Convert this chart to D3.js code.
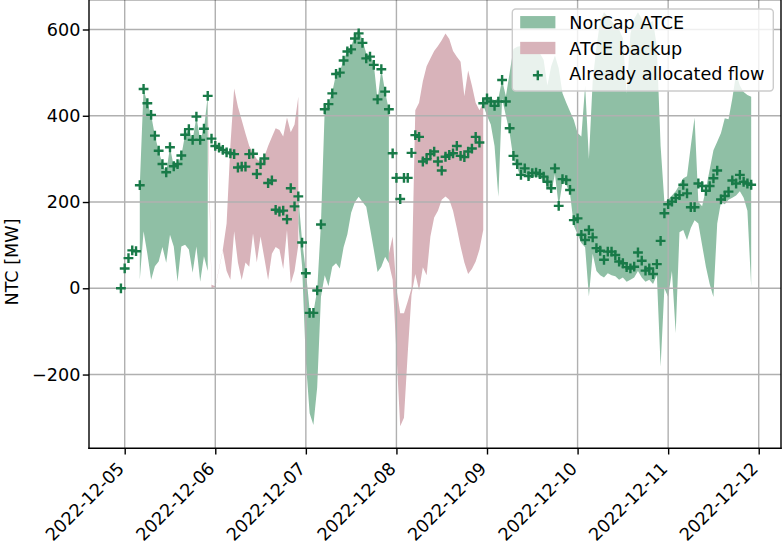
<!DOCTYPE html>
<html>
<head>
<meta charset="utf-8">
<script src="https://cdn.jsdelivr.net/npm/d3@7"></script>
<style>
  html, body { margin: 0; padding: 0; background: #ffffff; }
  svg { display: block; font-family: "DejaVu Sans", sans-serif; }
</style>
</head>
<body>
<svg id="chart" width="783" height="545"></svg>
<script>
// Hourly series, first hour 2022-12-04 23:00 UTC, 168 hours.
const firstHour = "2022-12-04T23:00:00Z";

const allocatedFlow = [
  0,
  46, 70, 88, 86, 239, 462, 429, 402, 354, 319,
  288, 269, 327, 283, 288, 308, 356, 369, 344, 398,
  344, 370, 446, 347, 330, 326, 321, 315, 313, 311,
  280, 282, 282, 311, 312, 265, 288, 301, 244, 250,
  182, 178, 180, 160, 232, 190, 213, 106, 35, -57,
  -57, -5, 148, 415, 427, 452, 497, 500, 528, 549,
  554, 579, 591, 569, 533, 537, 518, 438, 508, 456,
  415, 313, 256, 207, 256, 256, 314, 355, 351, 294,
  299, 311, 317, 294, 273, 305, 309, 313, 330, 307,
  304, 317, 324, 351, 338, 429, 440, 433, 423, 433,
  483, 433, 371, 307, 288, 263, 278, 260, 267, 268,
  265, 259, 247, 232, 278, 191, 253, 251, 228, 158,
  162, 124, 112, 135, 118, 93, 87, 66, 85, 85,
  77, 62, 58, 49, 46, 50, 83, 64, 41, 46,
  33, 56, 110, 174, 195, 201, 209, 216, 240, 220,
  188, 188, 243, 237, 226, 237, 255, 273, 206, 214,
  224, 250, 243, 263, 247, 243, 240
];

// NorCap ATCE range (null where the backup applies or no range exists)
const norcapHigh = [
  null, null, null, null, null,
  239, 462, 429, 402, 354, 319, 288, 269, 327, 283, 288, 308, 356, 369, 344, 398, 344, 370, 446,
  null, null, null, null, null, null, null, null, null, null, null, null,
  null, null, null, null, null, null, null, null, null, null, null,
  213, 110, 40, -50, -55, -5, 150, 415, 430, 455, 497, 502, 530, 550, 560, 587, 600, 575, 545,
  540, 520, 436, 508, 456, 413,
  null, null, null, null, null, null, null, null, null, null, null, null,
  null, null, null, null, null, null, null, null, null, null, null, null,
  440, 445, 440, 436, 440, 483, 445, 500, 555, 560,
  562, 558, 562, 555, 550, 545, 530, 470, 515, 540,
  510, 452, 430, 410, 390, 360, 352, 470, 300, 480,
  560, 620, 640, 630, 620, 610, 600, 580, 452, 590,
  625, 640, 625, 610, 615, 620, 560, 330, 200, 205,
  215, 225, 240, 255, 260, 330, 396, 200, 190, 230,
  275, 320, 340, 360, 394, 392, 440, 498, 470, 455,
  448, 444
];
const norcapLow = [
  null, null, null, null, null,
  20, 132, 80, 20, 51, 62, 96, 59, 124, 97, 15, 97, 101, 90, 36, 97, 15, 74, 40,
  null, null, null, null, null, null, null, null, null, null, null, null,
  null, null, null, null, null, null, null, null, null, null, null,
  150, 51, -170, -290, -317, -230, -20, 30, 5, 50, 58, 46, 95, 125, 175, 200, 212, 200, 189,
  140, 90, 38, 50, 73, 58,
  null, null, null, null, null, null, null, null, null, null, null, null,
  null, null, null, null, null, null, null, null, null, null, null, null,
  425, 400, 380, 330, 212, 440, 400, 360, 300, 280,
  255, 270, 250, 258, 260, 256, 250, 238, 222, 265,
  190, 245, 240, 220, 145, 125, 105, 95, -19, 80,
  40, 30, 25, 35, 30, 28, 20, 25, 15, 20,
  25, 40, 25, 15, 20, 10, 30, -182, 0, -20,
  40, -104, 130, 135, 112, 140, 158, 150, 100, 50,
  10, -20, 150, 200, 195, 205, 210, 215, 225, 210,
  180, 4
];

// ATCE backup range (null where NorCap applies)
const backupHigh = [
  null, null, null, null, null, null, null, null, null, null, null, null,
  null, null, null, null, null, null, null, null, null, null, null,
  437, 8, 5, 46, 90, 150, 330, 463, 421, 390, 359, 330, 313,
  300, 292, 305, 330, 351, 371, 367, 352, 396, 362, 380, 444,
  null, null, null, null, null, null, null, null, null, null, null, null,
  null, null, null, null, null, null, null, null, null, null, null,
  80, 120, 0, -58, -58, -30, 0, 413, 430, 480, 515, 533, 550,
  562, 575, 591, 578, 550, 537, 525, 445, 505, 470, 430, 413, 430,
  null, null, null, null, null, null, null, null, null, null,
  null, null, null, null, null, null, null, null, null, null,
  null, null, null, null, null, null, null, null, null, null,
  null, null, null, null, null, null, null, null, null, null,
  null, null, null, null, null, null, null, null, null, null,
  null, null, null, null, null, null, null, null, null, null,
  null, null, null, null, null, null, null, null, null, null,
  null
];
const backupLow = [
  null, null, null, null, null, null, null, null, null, null, null, null,
  null, null, null, null, null, null, null, null, null, null, null,
  380, 0, 3, 44, 88, 40, 20, 132, 60, 19, 60, 50, 127,
  60, 120, 70, 19, 80, 96, 90, 45, 135, 11, 40, 100,
  null, null, null, null, null, null, null, null, null, null, null, null,
  null, null, null, null, null, null, null, null, null, null, null,
  58, 20, -150, -320, -300, -150, -15, 33, -5, 49, 30, 120, 164,
  180, 205, 213, 205, 180, 140, 97, 60, 33, 45, 62, 90, 135,
  null, null, null, null, null, null, null, null, null, null,
  null, null, null, null, null, null, null, null, null, null,
  null, null, null, null, null, null, null, null, null, null,
  null, null, null, null, null, null, null, null, null, null,
  null, null, null, null, null, null, null, null, null, null,
  null, null, null, null, null, null, null, null, null, null,
  null, null, null, null, null, null, null, null, null, null,
  null
];

const dayTicks = ["2022-12-05", "2022-12-06", "2022-12-07", "2022-12-08",
                  "2022-12-09", "2022-12-10", "2022-12-11", "2022-12-12"];
const valueTicks = [-200, 0, 200, 400, 600];
const seriesLabels = ["NorCap ATCE", "ATCE backup", "Already allocated flow"];
const axisTitle = "NTC [MW]";

// ---- styling ----
const COL = {
  norcap: "#8fbfa5",
  backup: "#d8b3ba",
  flow: "#187a48",
  grid: "#b0b0b0",
  axis: "#000000"
};
const FS = 17.6;          // font size (px)
const LW = 1.4;           // spine / grid / tick line width
const TICK = 6.2;         // tick length
const XPAD = 6.2;         // x tick label pad
const YPAD = 2.4;         // y tick label pad

const plot = { left: 89, right: 781, top: 0, bottom: 448.3 };

const t0 = Date.parse(firstHour);
const rows = allocatedFlow.map((v, i) => ({
  time: new Date(t0 + i * 3600e3),
  flow: v,
  nLow: norcapLow[i], nHigh: norcapHigh[i],
  bLow: backupLow[i], bHigh: backupHigh[i]
}));

const dayStart = Date.UTC(2022, 11, 5);
const x = d3.scaleUtc()
  .domain([new Date(dayStart - 9.46 * 3600e3), new Date(dayStart + 173.9 * 3600e3)])
  .range([plot.left, plot.right]);
const y = d3.scaleLinear()
  .domain([-371, 668.4])
  .range([plot.bottom, plot.top]);

const svg = d3.select("#chart");

svg.append("defs").append("clipPath").attr("id", "plotClip")
  .append("rect")
  .attr("x", plot.left).attr("y", plot.top)
  .attr("width", plot.right - plot.left).attr("height", plot.bottom - plot.top);

const body = svg.append("g").attr("clip-path", "url(#plotClip)");

// range bands
const bandN = d3.area()
  .defined(d => d.nLow != null && d.nHigh != null)
  .x(d => x(d.time)).y0(d => y(d.nLow)).y1(d => y(d.nHigh));
const bandB = d3.area()
  .defined(d => d.bLow != null && d.bHigh != null)
  .x(d => x(d.time)).y0(d => y(d.bLow)).y1(d => y(d.bHigh));

body.append("path").datum(rows).attr("d", bandN).attr("fill", COL.norcap);
body.append("path").datum(rows).attr("d", bandB).attr("fill", COL.backup);

// grid
const dayDates = dayTicks.map(s => new Date(s + "T00:00:00Z"));
const grid = body.append("g").attr("stroke", COL.grid).attr("stroke-width", LW);
grid.selectAll("line.gx").data(dayDates).join("line")
  .attr("x1", d => x(d)).attr("x2", d => x(d))
  .attr("y1", plot.top).attr("y2", plot.bottom);
grid.selectAll("line.gy").data(valueTicks).join("line")
  .attr("x1", plot.left).attr("x2", plot.right)
  .attr("y1", d => y(d)).attr("y2", d => y(d));

// allocated flow markers
const PLUS = "M-4.9,0H4.9M0,-4.9V4.9";
body.selectAll("path.flow").data(rows).join("path")
  .attr("class", "flow")
  .attr("transform", d => `translate(${x(d.time)},${y(d.flow)})`)
  .attr("d", PLUS)
  .attr("fill", "none")
  .attr("stroke", COL.flow)
  .attr("stroke-width", 2.4);

// axes
const xAxis = d3.axisBottom(x).tickValues(dayDates).tickSize(TICK).tickFormat(() => "");
const gx = svg.append("g").attr("transform", `translate(0,${plot.bottom})`).call(xAxis);
gx.select(".domain").remove();
gx.selectAll(".tick line").attr("stroke", COL.axis).attr("stroke-width", LW);

// rotated day labels: right end of each label sits under its tick
const fmtDay = d3.utcFormat("%Y-%m-%d");
const capH = 0.73 * FS, r2 = Math.SQRT1_2;
svg.append("g").selectAll("text").data(dayDates).join("text")
  .attr("transform", d => `translate(${x(d) + 0.5},${plot.bottom + TICK + XPAD + r2 * capH}) rotate(-45)`)
  .attr("text-anchor", "end")
  .attr("font-size", FS)
  .attr("fill", "#000")
  .text(d => fmtDay(d));

const yAxis = d3.axisLeft(y).tickValues(valueTicks).tickSize(TICK).tickPadding(YPAD)
  .tickFormat(d => d < 0 ? "\u2212" + Math.abs(d) : String(d));
const gy = svg.append("g").attr("transform", `translate(${plot.left},0)`).call(yAxis);
gy.select(".domain").remove();
gy.selectAll(".tick line").attr("stroke", COL.axis).attr("stroke-width", LW);
gy.selectAll(".tick text").attr("font-size", FS).attr("font-family", "DejaVu Sans").attr("fill", "#000");

// frame
const frame = svg.append("g").attr("stroke", COL.axis).attr("stroke-width", LW).attr("fill", "none");
frame.append("line").attr("x1", plot.left).attr("x2", plot.left).attr("y1", -1).attr("y2", plot.bottom + LW / 2);
frame.append("line").attr("x1", plot.left - LW / 2).attr("x2", plot.right + LW / 2).attr("y1", plot.bottom).attr("y2", plot.bottom);
frame.append("line").attr("x1", plot.right).attr("x2", plot.right).attr("y1", -1).attr("y2", plot.bottom + LW / 2);
frame.append("line").attr("x1", plot.left).attr("x2", plot.right).attr("y1", -0.35).attr("y2", -0.35);

// y title
svg.append("text")
  .attr("transform", `translate(18,262) rotate(-90)`)
  .attr("text-anchor", "middle")
  .attr("font-size", FS)
  .attr("fill", "#000")
  .text(axisTitle);

// legend
const lg = svg.append("g");
lg.append("rect")
  .attr("x", 512.3).attr("y", 9).attr("width", 261).attr("height", 82)
  .attr("rx", 3.5).attr("ry", 3.5)
  .attr("fill", "#ffffff").attr("fill-opacity", 0.8)
  .attr("stroke", "#cccccc").attr("stroke-width", LW);
const rowCenters = [22.2, 48.0, 73.8];
const swatches = [COL.norcap, COL.backup];
swatches.forEach((c, i) => {
  lg.append("rect")
    .attr("x", 520.2).attr("y", rowCenters[i] - 6.15)
    .attr("width", 35.2).attr("height", 12.3)
    .attr("fill", c);
});
lg.append("path")
  .attr("transform", `translate(537.8,${rowCenters[2] + 1.5})`)
  .attr("d", PLUS).attr("fill", "none")
  .attr("stroke", COL.flow).attr("stroke-width", 2.4);
lg.selectAll("text").data(seriesLabels).join("text")
  .attr("x", 569.3)
  .attr("y", (d, i) => rowCenters[i] + 6.6)
  .attr("font-size", FS)
  .attr("fill", "#000")
  .text(d => d);
</script>
</body>
</html>
